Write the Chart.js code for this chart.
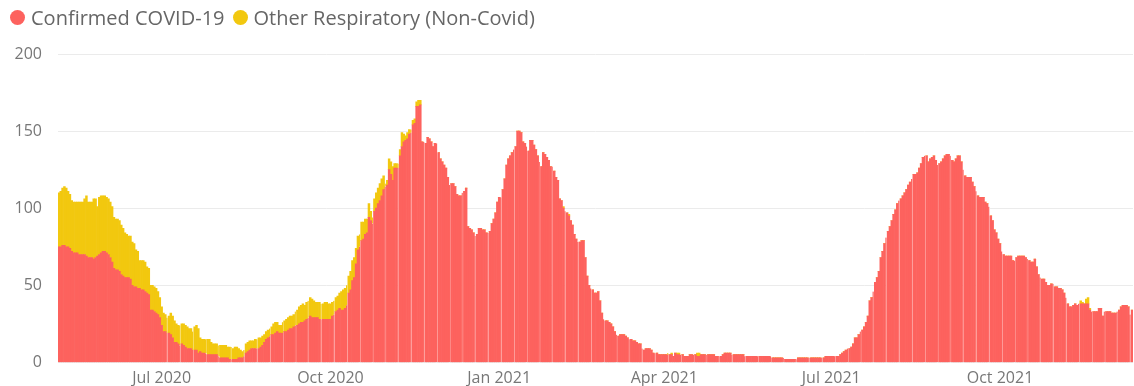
<!DOCTYPE html>
<html>
<head>
<meta charset="utf-8">
<script src="https://cdn.jsdelivr.net/npm/chart.js@4.4.0/dist/chart.umd.min.js"></script>
<style>
  body { margin: 0; background: #fff; overflow: hidden; }
  .wrap { position: relative; width: 1134px; height: 386px; overflow: hidden; }
  #chart { position: absolute; left: 0; top: 2px; }
  #legend {
    position: absolute; left: 10px; top: 4px;
    display: flex; align-items: center;
    font: 20px "Segoe UI", "Open Sans", sans-serif; color: #666;
  }
  #legend .item { display: flex; align-items: center; margin-right: 8px; }
  #legend .dot { width: 15px; height: 15px; border-radius: 50%; margin-right: 6px; }
</style>
</head>
<body>
<div class="wrap">
  <canvas id="chart" width="1134" height="386"></canvas>
  <div id="legend"></div>
</div>
<script>
// daily beds occupied, first day 6 May 2020
const firstDay = '2020-05-06';

const covid = [
  75,75,76,76,75,75,74,72,71,71,
  71,70,70,70,70,69,68,68,68,67,
  68,69,70,71,72,72,71,70,68,65,
  61,60,60,59,57,56,55,55,55,54,
  50,49,49,48,48,47,47,46,45,44,
  34,34,33,32,31,29,24,20,20,19,
  19,18,16,13,13,12,11,12,11,10,
  9,9,9,8,8,8,6,7,6,6,
  6,5,5,5,5,5,5,4,3,3,
  3,3,3,2,2,2,2,2,3,3,
  3,4,6,7,8,9,9,9,9,9,
  10,11,13,15,16,17,18,18,19,20,
  19,19,19,20,20,21,22,22,23,24,
  24,25,26,26,27,28,29,30,29,29,
  29,29,28,28,28,28,28,28,28,30,
  31,33,34,35,34,34,35,37,45,47,
  53,55,64,73,75,79,80,83,84,94,
  92,90,98,100,103,105,108,112,114,115,
  125,122,118,126,126,126,134,140,143,144,
  145,148,149,154,155,166,166,167,143,143,
  142,146,145,143,140,142,142,136,132,130,
  128,126,120,115,116,116,114,109,108,108,
  110,111,113,88,87,86,84,82,83,87,
  87,86,86,84,84,85,90,93,97,104,
  107,107,112,119,128,132,134,136,138,140,
  150,150,149,143,142,140,137,144,144,141,
  138,134,130,127,136,135,133,131,127,127,
  124,120,118,106,105,100,98,97,95,92,
  89,83,80,78,78,79,79,68,56,50,
  48,47,45,45,46,40,32,28,27,27,
  26,25,23,20,18,17,18,18,18,17,
  16,15,15,14,14,13,12,12,9,8,
  9,9,9,8,6,6,6,5,5,5,
  5,5,5,5,5,4,6,5,5,5,
  5,4,4,4,5,5,5,5,4,4,
  5,5,5,5,5,5,5,5,4,4,
  4,4,5,6,6,6,6,5,5,5,
  5,5,5,5,4,4,4,4,4,4,
  4,4,4,4,4,4,4,4,4,3,
  3,3,3,3,3,3,2,2,2,2,
  2,2,2,3,3,3,3,3,3,3,
  3,3,3,3,3,3,3,3,4,4,
  4,4,4,4,4,4,5,6,7,8,
  9,9,10,12,16,16,18,20,21,23,
  26,30,40,42,46,52,55,59,68,72,
  77,81,85,88,92,96,99,103,105,106,
  108,110,112,115,117,119,122,122,123,126,
  129,133,134,134,130,132,133,134,131,128,
  129,130,132,134,135,135,134,131,130,132,
  134,134,130,125,121,120,120,120,117,114,
  111,108,107,107,107,104,103,101,95,92,
  86,84,80,77,72,70,69,69,69,69,
  66,66,68,69,69,69,69,68,67,66,
  65,65,67,62,57,55,54,54,52,50,
  50,51,51,49,49,48,48,47,45,42,
  38,36,36,37,38,37,38,38,38,38,
  38,38,34,33,33,33,33,35,35,30,
  33,33,33,33,32,32,32,33,34,36,
  37,37,37,36,31,34
];

const otherResp = [
  35,36,37,38,38,36,35,33,33,33,
  33,34,34,34,36,39,36,36,36,39,
  38,32,37,37,36,36,36,36,36,36,
  33,33,33,33,32,31,29,28,27,28,
  28,28,24,24,18,19,19,19,17,17,
  16,16,16,16,15,13,12,12,11,10,
  11,14,14,14,12,12,13,13,14,14,
  14,13,13,12,15,16,16,9,9,9,
  9,10,10,8,7,7,7,7,8,8,
  8,8,7,8,8,7,8,8,6,5,
  4,4,6,6,6,5,5,6,6,7,
  6,6,5,5,5,5,5,7,7,6,
  5,5,7,7,8,8,8,8,8,9,
  10,11,11,12,10,11,11,12,12,11,
  10,10,11,10,10,11,11,10,10,9,
  9,9,9,10,12,13,13,13,11,12,
  13,13,10,9,8,12,11,10,9,9,
  6,4,8,10,10,11,11,9,2,3,
  7,8,9,3,3,3,4,9,5,3,
  4,3,2,3,3,3,4,3,0,0,
  0,0,0,0,0,0,0,0,0,0,
  0,0,0,0,0,0,0,0,0,0,
  0,0,0,0,0,0,0,0,0,0,
  0,0,0,0,0,0,0,0,0,0,
  0,0,0,0,0,0,0,0,0,0,
  0,0,0,0,0,0,0,0,0,0,
  0,0,0,0,0,0,0,0,0,0,
  0,0,0,0,0,1,0,0,1,0,
  0,0,0,0,0,0,0,0,0,0,
  0,0,0,0,0,0,0,0,0,0,
  0,0,0,0,0,0,0,0,0,0,
  0,0,0,0,0,0,0,0,0,0,
  0,0,0,0,0,0,0,0,0,0,
  0,0,1,0,1,0,0,1,1,0,
  0,0,0,0,0,0,0,0,2,2,
  0,0,0,0,0,0,0,0,0,0,
  0,0,0,0,0,0,0,0,0,0,
  0,0,0,0,0,0,0,0,0,0,
  0,0,0,0,0,0,0,0,0,0,
  0,0,0,0,0,0,0,0,0,0,
  0,0,0,0,0,0,0,0,0,0,
  0,0,0,0,0,0,0,0,0,0,
  0,0,0,0,0,0,0,0,0,0,
  0,0,0,0,0,0,0,0,0,0,
  0,0,0,0,0,0,0,0,0,0,
  0,0,0,0,0,0,0,0,0,0,
  0,0,0,0,0,0,0,0,0,0,
  0,0,0,0,0,0,0,0,0,0,
  0,0,0,0,0,0,0,0,0,0,
  0,0,0,0,0,0,0,0,0,0,
  0,0,0,0,0,0,0,0,0,0,
  0,0,0,0,0,0,0,0,0,0,
  0,0,0,0,0,0,0,0,0,0,
  0,0,0,0,0,0,0,0,0,0,
  0,0,0,0,0,0,0,0,0,0,
  0,0,0,0,0,0,0,2,1,0,
  3,4,1,0,0,0,0,0,0,0,
  0,0,0,0,0,0,0,0,0,0,
  0,0,0,0,0,0
];

const tickDays = ['2020-07-01', '2020-10-01', '2021-01-01', '2021-04-01', '2021-07-01', '2021-10-01'];
const tickLabels = ['Jul 2020', 'Oct 2020', 'Jan 2021', 'Apr 2021', 'Jul 2021', 'Oct 2021'];
const yTicks = [0, 50, 100, 150, 200];

const seriesNames = ['Confirmed COVID-19', 'Other Respiratory (Non-Covid)'];
const seriesColors = ['#FD625E', '#F2C80F'];

// one category per day
const days = [];
const d = new Date(firstDay + 'T00:00:00Z');
for (let i = 0; i < covid.length; i++) {
  days.push(d.toISOString().slice(0, 10));
  d.setUTCDate(d.getUTCDate() + 1);
}

// thin white seam after each Saturday from July on
function weekSeam(ctx) {
  const i = ctx.dataIndex;
  return (i >= 58 && i % 7 === 3) ? { top: 0, right: 1.5, bottom: 0, left: 0 } : 0;
}

const font = { family: '"Segoe UI", "Open Sans", sans-serif', size: 16 };

const chart = new Chart(document.getElementById('chart'), {
  type: 'bar',
  data: {
    labels: days,
    datasets: [
      { label: seriesNames[0], data: covid, backgroundColor: seriesColors[0] },
      { label: seriesNames[1], data: otherResp, backgroundColor: seriesColors[1] }
    ]
  },
  options: {
    responsive: false,
    animation: false,
    devicePixelRatio: 1,
    layout: { padding: { top: 52, right: 1, bottom: -9, left: 0 } },
    datasets: {
      bar: {
        barPercentage: 1,
        categoryPercentage: 1,
        borderWidth: weekSeam,
        borderColor: '#fff',
        borderSkipped: false
      }
    },
    scales: {
      x: {
        stacked: true,
        grid: { display: false, drawTicks: false },
        border: { display: false },
        ticks: {
          autoSkip: false,
          maxRotation: 0,
          minRotation: 0,
          padding: 6,
          color: '#777',
          font: font,
          callback: function (value) {
            const i = tickDays.indexOf(this.getLabelForValue(value));
            return i < 0 ? null : tickLabels[i];
          }
        }
      },
      y: {
        stacked: true,
        min: yTicks[0],
        max: yTicks[yTicks.length - 1],
        afterFit: function (axis) { axis.width = 58; },
        afterBuildTicks: function (axis) { axis.ticks = yTicks.map(v => ({ value: v })); },
        ticks: { padding: 16, color: '#777', font: font },
        grid: { color: '#ebebeb', drawTicks: false },
        border: { display: false }
      }
    },
    plugins: {
      legend: { display: false },
      tooltip: { enabled: false }
    }
  }
});

// legend
const legend = document.getElementById('legend');
chart.data.datasets.forEach(ds => {
  const item = document.createElement('span');
  item.className = 'item';
  const dot = document.createElement('span');
  dot.className = 'dot';
  dot.style.background = ds.backgroundColor;
  item.appendChild(dot);
  item.appendChild(document.createTextNode(ds.label));
  legend.appendChild(item);
});
</script>
</body>
</html>
